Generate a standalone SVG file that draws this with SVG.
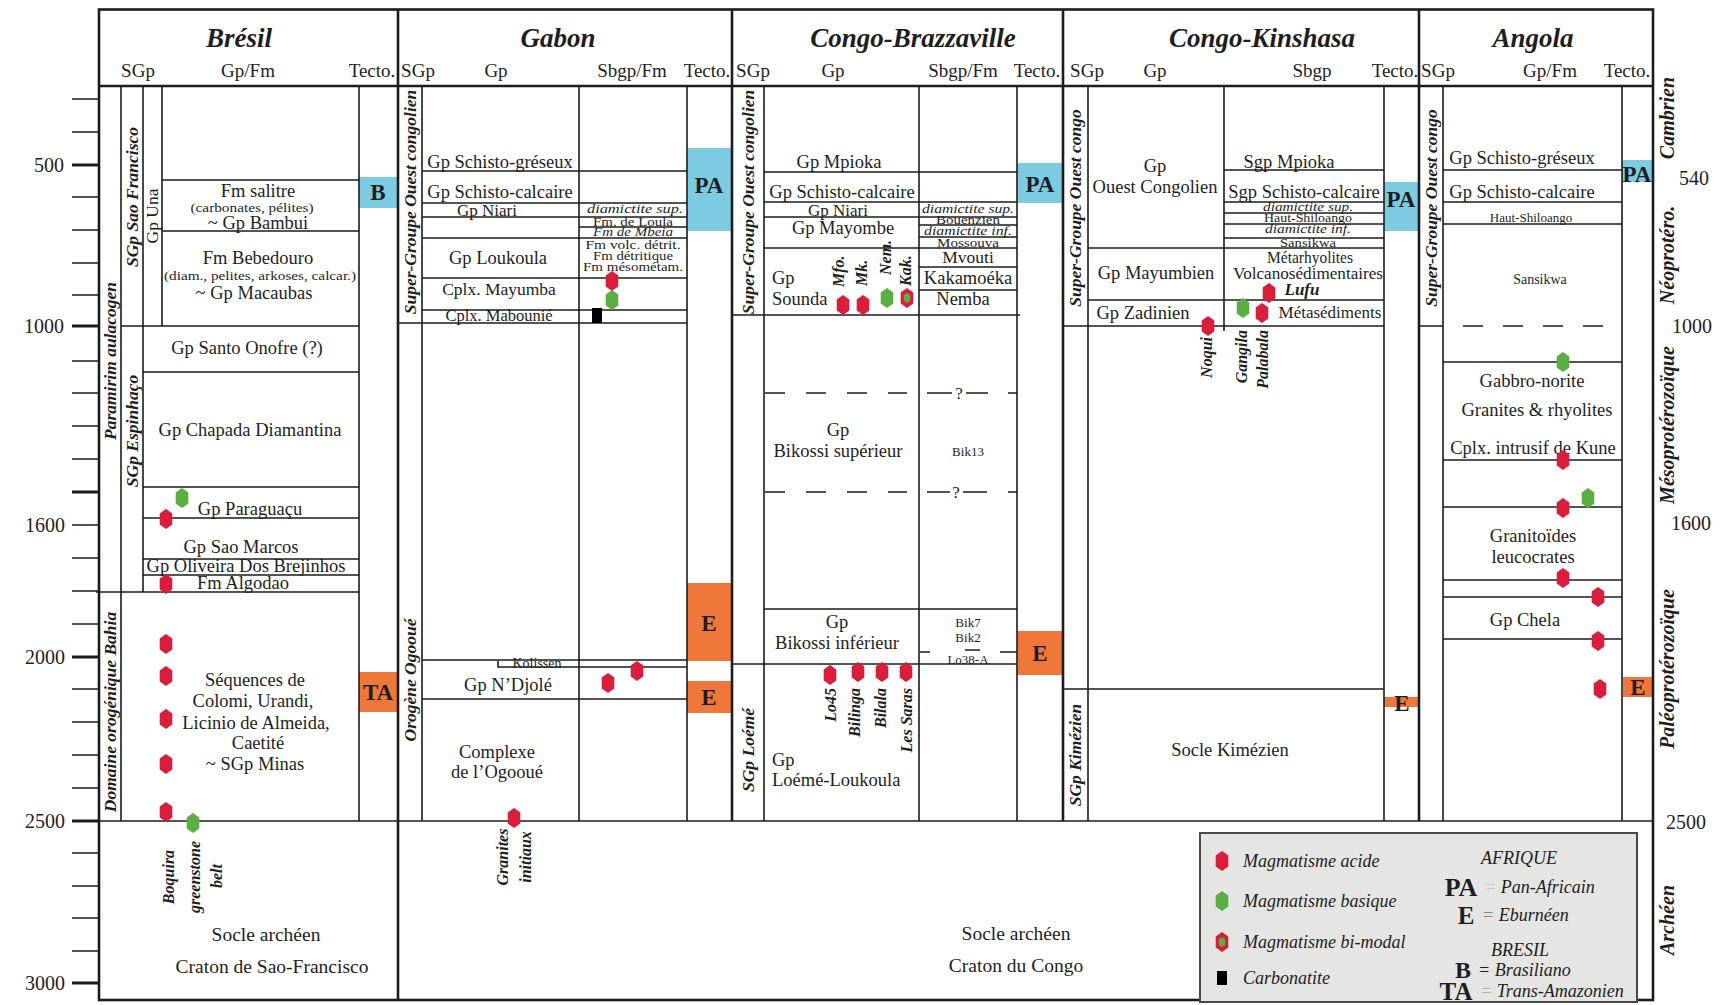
<svg xmlns="http://www.w3.org/2000/svg" width="1722" height="1005" viewBox="0 0 1722 1005">
<style>
.l{stroke:#1c1c1c;stroke-width:1.6;fill:none}
.f{stroke:#1c1c1c;stroke-width:2.6;fill:none}
.tk{stroke:#1c1c1c;stroke-width:1.6}
.tkb{stroke:#1c1c1c;stroke-width:3}
.t{font-family:"Liberation Serif","Times New Roman",serif;fill:#1e1e1e}
.m{text-anchor:middle}
.e{text-anchor:end}
.bi{font-weight:bold;font-style:italic}
.i{font-style:italic}
.b{font-weight:bold}
.h{font-size:27px}
.c{font-size:19px}
.n{font-size:18.5px}
.s{font-size:14px}
.xs{font-size:13px}
.tn{font-size:11.5px}
.v{font-size:17.5px}
.hl{font-size:16px}
.blue{fill:#7DCBE3}
.or{fill:#F0773A}
.tec{font-weight:bold;font-size:23px}
</style>
<defs>
<path id="hx" d="M0,-10 L6.3,-5.5 L6.3,5.5 L0,10 L-6.3,5.5 L-6.3,-5.5Z"/>
<g id="hr"><use href="#hx" fill="#D81E3B"/></g>
<g id="hg"><use href="#hx" fill="#5BAE42"/></g>
<g id="hb"><use href="#hx" fill="#D81E3B"/><path d="M0,-5 L3.2,-2.8 L3.2,2.8 L0,5 L-3.2,2.8 L-3.2,-2.8Z" fill="#5BAE42"/></g>
</defs>
<rect width="1722" height="1005" fill="#fff"/>

<g id="tecto">
<rect class="blue" x="359" y="177" width="38" height="31"/>
<rect class="or" x="359" y="672" width="38" height="40"/>
<rect class="blue" x="687" y="148" width="44" height="83"/>
<rect class="or" x="687" y="583" width="44" height="78"/>
<rect class="or" x="687" y="681" width="44" height="32"/>
<rect class="blue" x="1017" y="163" width="46" height="40"/>
<rect class="or" x="1017" y="631" width="46" height="44"/>
<rect class="blue" x="1384" y="182" width="35" height="49"/>
<rect class="or" x="1384" y="697" width="35" height="10"/>
<rect class="blue" x="1622" y="160" width="31" height="22"/>
<rect class="or" x="1623" y="677" width="29" height="20"/>
<text class="t m tec" x="378" y="200">B</text>
<text class="t m tec" x="378" y="700">TA</text>
<text class="t m tec" x="709" y="193">PA</text>
<text class="t m tec" x="709" y="631">E</text>
<text class="t m tec" x="709" y="705">E</text>
<text class="t m tec" x="1040" y="192">PA</text>
<text class="t m tec" x="1040" y="661">E</text>
<text class="t m tec" x="1401" y="207">PA</text>
<text class="t m tec" x="1402" y="711" font-size="21">E</text>
<text class="t m tec" x="1637" y="182" font-size="21">PA</text>
<text class="t m tec" x="1638" y="695" font-size="20">E</text>
</g>

<g id="connectors">
<rect class="f" x="99" y="9.5" width="1554" height="990.5"/>
<path class="f" d="M99,86 H1653" stroke-width="3.2"/>
<path class="f" d="M398,9.5 V1000 M732,9.5 V821 M1063,9.5 V821 M1419,9.5 V821"/>
<path class="l" d="M99,821 H1653" stroke-width="2"/>
<path class="tk" d="M72,99H99M72,132H99M72,197H99M72,230H99M72,263H99M72,295H99M72,361H99M72,393H99M72,426H99M72,459H99M72,525H99M72,558H99M72,591H99M72,624H99M72,689H99M72,722H99M72,755H99M72,788H99M72,853H99M72,886H99M72,918H99M72,951H99"/>
<path class="tkb" d="M72,165H99M72,326H99M72,492H99M72,657H99M72,821H99M72,983H99"/>
<path class="l" d="M121,86V821 M143,86V592 M162,86V326 M359,86V821"/>
<path class="l" d="M162,180H359 M162,231H359 M121,326H359 M143,372H359 M143,487H359 M143,518H359 M143,559H359 M143,575H359 M96,592H359"/>
<path class="l" d="M422,86V821 M579,86V821 M687,86V821"/>
<path class="l" d="M422,171H687 M422,203H687 M422,217H687 M579,227H687 M422,238H687 M422,278H687 M422,310H687 M398,323H687 M422,660H687 M498,661V667H687 M422,699H687"/>
<path class="l" d="M764,86V821 M919,86V821 M1017,86V821"/>
<path class="l" d="M764,172H1017 M764,202H1017 M764,217H1017 M919,225H1017 M919,237H1017 M764,248H1017 M919,267H1017 M919,290H1017 M732,315H1020 M764,609H1017 M732,664H1017"/>
<path class="l" d="M765,393H785M806,393H826M847,393H867M888,393H907M927,393H952M966,393H988M1008,393H1017"/>
<path class="l" d="M765,492H785M806,492H826M847,492H867M888,492H907M927,492H950M963,492H987M1008,492H1017"/>
<path class="l" d="M920,652H930M965,650H980M1000,652H1017"/>
<path class="l" d="M1088,86V821 M1224,86V331 M1384,86V821"/>
<path class="l" d="M1224,170H1384 M1224,202H1384 M1224,213H1384 M1224,224H1384 M1224,238H1384 M1088,248H1384 M1088,300H1384 M1063,326H1384 M1063,689H1384"/>
<path class="l" d="M1443,86V821 M1622,86V821"/>
<path class="l" d="M1443,170H1622 M1443,202H1622 M1443,224H1622 M1419,326H1443 M1443,362H1622 M1443,460H1622 M1443,507H1622 M1443,580H1622 M1443,597H1622 M1443,639H1622"/>
<path class="l" d="M1463,326H1483M1503,326H1523M1543,326H1563M1583,326H1603"/>
</g>

<g id="header">
<text class="t bi m h" x="239" y="47">Brésil</text>
<text class="t bi m h" x="558" y="47">Gabon</text>
<text class="t bi m h" x="913" y="47">Congo-Brazzaville</text>
<text class="t bi m h" x="1262" y="47">Congo-Kinshasa</text>
<text class="t bi m h" x="1533" y="47">Angola</text>
<text class="t m c" x="138" y="77">SGp</text>
<text class="t m c" x="248" y="77">Gp/Fm</text>
<text class="t m c" x="372" y="77">Tecto.</text>
<text class="t m c" x="418" y="77">SGp</text>
<text class="t m c" x="496" y="77">Gp</text>
<text class="t m c" x="632" y="77">Sbgp/Fm</text>
<text class="t m c" x="707" y="77">Tecto.</text>
<text class="t m c" x="753" y="77">SGp</text>
<text class="t m c" x="833" y="77">Gp</text>
<text class="t m c" x="963" y="77">Sbgp/Fm</text>
<text class="t m c" x="1037" y="77">Tecto.</text>
<text class="t m c" x="1087" y="77">SGp</text>
<text class="t m c" x="1155" y="77">Gp</text>
<text class="t m c" x="1312" y="77">Sbgp</text>
<text class="t m c" x="1395" y="77">Tecto.</text>
<text class="t m c" x="1438" y="77">SGp</text>
<text class="t m c" x="1550" y="77">Gp/Fm</text>
<text class="t m c" x="1627" y="77">Tecto.</text>
</g>

<g id="axis-left">
<text class="t e" font-size="20" x="64" y="172">500</text>
<text class="t e" font-size="20" x="64" y="333">1000</text>
<text class="t e" font-size="20" x="65" y="532">1600</text>
<text class="t e" font-size="20" x="65" y="664">2000</text>
<text class="t e" font-size="20" x="65" y="828">2500</text>
<text class="t e" font-size="20" x="65" y="990">3000</text>
</g>
<g id="axis-right">
<text class="t m" font-size="20" x="1694" y="185">540</text>
<text class="t m" font-size="20" x="1692" y="333">1000</text>
<text class="t m" font-size="20" x="1691" y="530">1600</text>
<text class="t m" font-size="20" x="1686" y="829">2500</text>
<text class="t bi m" font-size="20" transform="translate(1674 118) rotate(-90)">Cambrien</text>
<text class="t bi m" font-size="20" transform="translate(1674 255) rotate(-90)">Néoprotéro.</text>
<text class="t bi m" font-size="20" transform="translate(1674 425) rotate(-90)">Mésoprotérozoïque</text>
<text class="t bi m" font-size="20" transform="translate(1674 669) rotate(-90)">Paléoprotérozoïque</text>
<text class="t bi m" font-size="20" transform="translate(1674 920) rotate(-90)">Archéen</text>
</g>

<g id="bresil">
<text class="t bi m v" transform="translate(116 361) rotate(-90)">Paramirim aulacogen</text>
<text class="t bi m v" transform="translate(138 197) rotate(-90)">SGp Sao Francisco</text>
<text class="t m v" transform="translate(158 216) rotate(-90)">Gp Una</text>
<text class="t bi m v" transform="translate(138 431) rotate(-90)">SGp Espinhaço</text>
<text class="t bi m v" transform="translate(116 712) rotate(-90)">Domaine orogénique Bahia</text>
<text class="t m n" x="258" y="197">Fm salitre</text>
<text class="t m" font-size="13" x="252" y="212" textLength="123" lengthAdjust="spacingAndGlyphs">(carbonates, pélites)</text>
<text class="t m n" x="258" y="229">~ Gp Bambui</text>
<text class="t m n" x="258" y="264">Fm Bebedouro</text>
<text class="t m" font-size="13.5" x="260" y="280" textLength="192" lengthAdjust="spacingAndGlyphs">(diam., pelites, arkoses, calcar.)</text>
<text class="t m n" x="254" y="299">~ Gp Macaubas</text>
<text class="t m n" x="247" y="354">Gp Santo Onofre (?)</text>
<text class="t m n" x="250" y="436">Gp Chapada Diamantina</text>
<text class="t m n" x="250" y="515">Gp Paraguaçu</text>
<text class="t m n" x="241" y="553">Gp Sao Marcos</text>
<text class="t m n" x="246" y="572">Gp Oliveira Dos Brejinhos</text>
<text class="t m n" x="243" y="589">Fm Algodao</text>
<text class="t m n" x="255" y="686">Séquences de</text>
<text class="t m n" x="253" y="707">Colomi, Urandi,</text>
<text class="t m n" x="256" y="729">Licinio de Almeida,</text>
<text class="t m n" x="258" y="749">Caetité</text>
<text class="t m n" x="255" y="770">~ SGp Minas</text>
<text class="t m" font-size="19.5" x="266" y="941">Socle archéen</text>
<text class="t m" font-size="19.5" x="272" y="973">Craton de Sao-Francisco</text>
<use href="#hg" x="182" y="498"/>
<use href="#hr" x="166" y="519"/>
<use href="#hr" x="166" y="584"/>
<use href="#hr" x="166" y="644"/>
<use href="#hr" x="166" y="676"/>
<use href="#hr" x="166" y="719"/>
<use href="#hr" x="166" y="764"/>
<use href="#hr" x="166" y="812"/>
<use href="#hg" x="193" y="823"/>
<text class="t bi m hl" transform="translate(174 877) rotate(-90)">Boquira</text>
<text class="t bi m hl" transform="translate(200 877) rotate(-90)">greenstone</text>
<text class="t bi m hl" transform="translate(222 876) rotate(-90)">belt</text>
</g>

<g id="gabon">
<text class="t bi m v" transform="translate(416 202) rotate(-90)">Super-Groupe Ouest congolien</text>
<text class="t bi m v" transform="translate(416 680) rotate(-90)">Orogène Ogooué</text>
<text class="t m n" x="500" y="168">Gp Schisto-gréseux</text>
<text class="t m n" x="500" y="198">Gp Schisto-calcaire</text>
<text class="t m" font-size="17" x="487" y="216">Gp Niari</text>
<text class="t m n" x="498" y="264">Gp Loukoula</text>
<text class="t m" font-size="17.5" x="499" y="295">Cplx. Mayumba</text>
<text class="t m" font-size="16.5" x="499" y="321">Cplx. Mabounié</text>
<text class="t m i tn" x="635" y="213" textLength="96" lengthAdjust="spacingAndGlyphs">diamictite sup.</text>
<text class="t m tn" x="633" y="225.5" textLength="80" lengthAdjust="spacingAndGlyphs">Fm. de Loula</text>
<text class="t m i tn" x="633" y="236" textLength="80" lengthAdjust="spacingAndGlyphs">Fm de Mbeia</text>
<text class="t m" font-size="12" x="633" y="248.5" textLength="95" lengthAdjust="spacingAndGlyphs">Fm volc. détrit.</text>
<text class="t m" font-size="12" x="633" y="259.5" textLength="80" lengthAdjust="spacingAndGlyphs">Fm détritique</text>
<text class="t m" font-size="12" x="633" y="271" textLength="100" lengthAdjust="spacingAndGlyphs">Fm mésométam.</text>
<use href="#hr" x="612" y="281"/>
<use href="#hg" x="612" y="300"/>
<rect x="592" y="308" width="10" height="15" fill="#000"/>
<text class="t m" font-size="14" x="537" y="668">Kolissen</text>
<text class="t m n" x="508" y="691">Gp N’Djolé</text>
<text class="t m n" x="497" y="758">Complexe</text>
<text class="t m n" x="497" y="778">de l’Ogooué</text>
<use href="#hr" x="637" y="671"/>
<use href="#hr" x="608" y="683"/>
<use href="#hr" x="514" y="818"/>
<text class="t bi m hl" transform="translate(508 857) rotate(-90)">Granites</text>
<text class="t bi m hl" transform="translate(531 857) rotate(-90)">initiaux</text>
</g>

<g id="congo-brazzaville">
<text class="t bi m v" transform="translate(754 202) rotate(-90)">Super-Groupe Ouest congolien</text>
<text class="t bi m v" transform="translate(754 750) rotate(-90)">SGp Loémé</text>
<text class="t m n" x="839" y="168">Gp Mpioka</text>
<text class="t m n" x="842" y="198">Gp Schisto-calcaire</text>
<text class="t m" font-size="17" x="838" y="216">Gp Niari</text>
<text class="t m n" x="843" y="234">Gp Mayombe</text>
<text class="t n" x="772" y="284">Gp</text>
<text class="t n" x="772" y="305">Sounda</text>
<text class="t bi hl" transform="translate(844 287) rotate(-90)">Mfo.</text>
<text class="t bi hl" transform="translate(867 286) rotate(-90)">Mk.</text>
<text class="t bi hl" transform="translate(891 275) rotate(-90)">Nem.</text>
<text class="t bi hl" transform="translate(911 286) rotate(-90)">Kak.</text>
<use href="#hr" x="843" y="305"/>
<use href="#hr" x="863" y="305"/>
<use href="#hg" x="887" y="298"/>
<use href="#hb" x="907" y="298"/>
<text class="t m i tn" x="968" y="213" textLength="92" lengthAdjust="spacingAndGlyphs">diamictite sup.</text>
<text class="t m tn" x="968" y="224" textLength="64" lengthAdjust="spacingAndGlyphs">Bouenzien</text>
<text class="t m i tn" x="968" y="235" textLength="88" lengthAdjust="spacingAndGlyphs">diamictite inf.</text>
<text class="t m xs" x="968" y="246.5" textLength="62" lengthAdjust="spacingAndGlyphs">Mossouva</text>
<text class="t m" font-size="17.5" x="968" y="263">Mvouti</text>
<text class="t m n" x="968" y="284">Kakamoéka</text>
<text class="t m n" x="963" y="305">Nemba</text>
<text class="t m" font-size="17" x="959" y="399">?</text>
<text class="t m" font-size="17" x="956" y="498">?</text>
<text class="t m n" x="838" y="436">Gp</text>
<text class="t m n" x="838" y="457">Bikossi supérieur</text>
<text class="t m xs" x="968" y="456">Bik13</text>
<text class="t m n" x="837" y="628">Gp</text>
<text class="t m n" x="837" y="649">Bikossi inférieur</text>
<text class="t m xs" x="968" y="627">Bik7</text>
<text class="t m xs" x="968" y="642">Bik2</text>
<text class="t m xs" x="968" y="664">Lo38-A</text>
<use href="#hr" x="830" y="675"/>
<use href="#hr" x="858" y="672"/>
<use href="#hr" x="882" y="672"/>
<use href="#hr" x="906" y="672"/>
<text class="t bi e hl" transform="translate(836 688) rotate(-90)">Lo45</text>
<text class="t bi e hl" transform="translate(860 688) rotate(-90)">Bilinga</text>
<text class="t bi e hl" transform="translate(886 688) rotate(-90)">Bilala</text>
<text class="t bi e hl" transform="translate(912 688) rotate(-90)">Les Saras</text>
<text class="t n" x="772" y="766">Gp</text>
<text class="t n" x="772" y="786">Loémé-Loukoula</text>
</g>

<g id="congo-kinshasa">
<text class="t bi m v" transform="translate(1081 208) rotate(-90)">Super-Groupe Ouest congo</text>
<text class="t bi m v" transform="translate(1081 755) rotate(-90)">SGp Kimézien</text>
<text class="t m n" x="1155" y="172">Gp</text>
<text class="t m n" x="1155" y="193">Ouest Congolien</text>
<text class="t m n" x="1289" y="168">Sgp Mpioka</text>
<text class="t m n" x="1304" y="198">Sgp Schisto-calcaire</text>
<text class="t m i tn" x="1308" y="211" textLength="90" lengthAdjust="spacingAndGlyphs">diamictite sup.</text>
<text class="t m tn" x="1308" y="222" textLength="88" lengthAdjust="spacingAndGlyphs">Haut-Shiloango</text>
<text class="t m i tn" x="1308" y="233" textLength="86" lengthAdjust="spacingAndGlyphs">diamictite inf.</text>
<text class="t m tn" x="1308" y="246.5" textLength="56" lengthAdjust="spacingAndGlyphs">Sansikwa</text>
<text class="t m" font-size="16" x="1310" y="263" textLength="86" lengthAdjust="spacingAndGlyphs">Métarhyolites</text>
<text class="t m" font-size="16" x="1308" y="279" textLength="150" lengthAdjust="spacingAndGlyphs">Volcanosédimentaires</text>
<text class="t bi m" font-size="17" x="1302" y="295">Lufu</text>
<text class="t m" font-size="17" x="1330" y="318">Métasédiments</text>
<text class="t m n" x="1156" y="279">Gp Mayumbien</text>
<text class="t m n" x="1143" y="319">Gp Zadinien</text>
<use href="#hr" x="1269" y="293"/>
<use href="#hg" x="1243" y="308"/>
<use href="#hr" x="1262" y="313"/>
<use href="#hr" x="1208" y="326"/>
<text class="t bi e hl" transform="translate(1212 337) rotate(-90)">Noqui</text>
<text class="t bi e hl" transform="translate(1247 330) rotate(-90)">Gangila</text>
<text class="t bi e hl" transform="translate(1268 330) rotate(-90)">Palabala</text>
<text class="t m n" x="1230" y="756">Socle Kimézien</text>
</g>

<g id="angola">
<text class="t bi m v" transform="translate(1437 208) rotate(-90)">Super-Groupe Ouest congo</text>
<text class="t m n" x="1522" y="164">Gp Schisto-gréseux</text>
<text class="t m n" x="1522" y="198">Gp Schisto-calcaire</text>
<text class="t m xs" x="1531" y="222">Haut-Shiloango</text>
<text class="t m" font-size="14" x="1540" y="284">Sansikwa</text>
<use href="#hg" x="1563" y="362"/>
<text class="t m n" x="1532" y="387">Gabbro-norite</text>
<text class="t m n" x="1537" y="416">Granites &amp; rhyolites</text>
<text class="t m n" x="1533" y="454">Cplx. intrusif de Kune</text>
<text class="t m n" x="1533" y="542">Granitoïdes</text>
<text class="t m n" x="1533" y="563">leucocrates</text>
<text class="t m n" x="1525" y="626">Gp Chela</text>
<use href="#hr" x="1563" y="460"/>
<use href="#hg" x="1588" y="498"/>
<use href="#hr" x="1563" y="508"/>
<use href="#hr" x="1563" y="578"/>
<use href="#hr" x="1598" y="597"/>
<use href="#hr" x="1598" y="641"/>
<use href="#hr" x="1600" y="689"/>
</g>

<g id="craton-congo">
<text class="t m" font-size="19.5" x="1016" y="940">Socle archéen</text>
<text class="t m" font-size="19.5" x="1016" y="972">Craton du Congo</text>
</g>

<g id="legend">
<rect x="1200" y="833" width="437" height="169" fill="#E5E5E3" stroke="#4a4a4a" stroke-width="2"/>
<use href="#hr" x="1222" y="861"/>
<use href="#hg" x="1222" y="901"/>
<use href="#hb" x="1222" y="942"/>
<rect x="1217" y="971" width="10" height="14" fill="#000"/>
<text class="t i" font-size="18" x="1243" y="867">Magmatisme acide</text>
<text class="t i" font-size="18" x="1243" y="907">Magmatisme basique</text>
<text class="t i" font-size="18" x="1243" y="948">Magmatisme bi-modal</text>
<text class="t i" font-size="18" x="1243" y="984">Carbonatite</text>
<text class="t i m" font-size="18" x="1519" y="864">AFRIQUE</text>
<text class="t b m" font-size="26" x="1461" y="896">PA</text>
<text class="t i" font-size="18" x="1484" y="893"><tspan fill="#c8c8c8">= </tspan>Pan-Africain</text>
<text class="t b m" font-size="25" x="1466" y="924">E</text>
<text class="t i" font-size="18" x="1482" y="921"><tspan fill="#888">= </tspan>Eburnéen</text>
<text class="t i m" font-size="18" x="1520" y="956">BRESIL</text>
<text class="t b m" font-size="24" x="1463" y="978">B</text>
<text class="t i" font-size="18" x="1478" y="976">= Brasiliano</text>
<text class="t b m" font-size="25" x="1456" y="1000">TA</text>
<text class="t i" font-size="18" x="1480" y="997"><tspan fill="#b0b0b0">= </tspan>Trans-Amazonien</text>
</g>
</svg>
